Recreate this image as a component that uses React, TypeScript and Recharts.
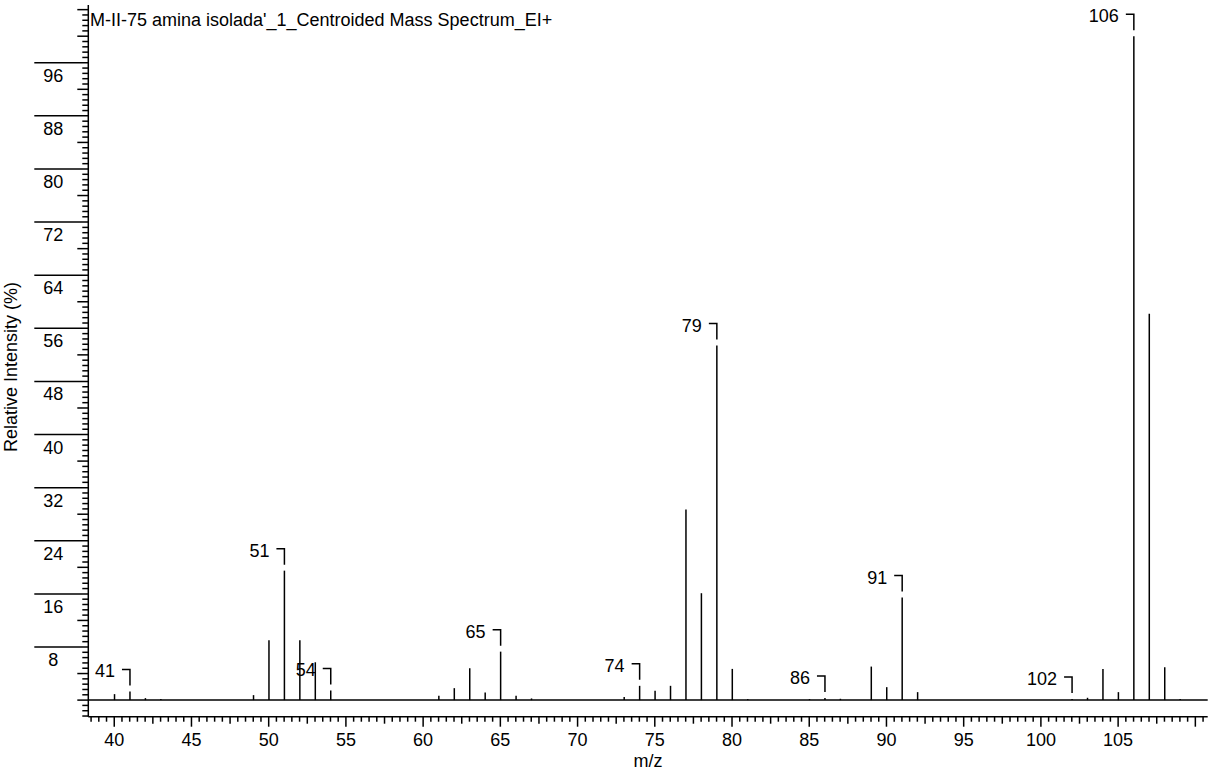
import React from "react";
import { Bar, ComposedChart, ReferenceLine, XAxis, YAxis } from "recharts";

const title = "M-II-75 amina isolada'_1_Centroided Mass Spectrum_EI+";

// centroided peaks: m/z and relative intensity (%)
const mzValues = [
  40, 41, 42, 43, 49, 50, 51, 52, 53, 54, 61, 62, 63, 64, 65, 66, 67, 73, 74, 75,
  76, 77, 78, 79, 80, 81, 85, 86, 87, 89, 90, 91, 92, 102, 103, 104, 105, 106,
  107, 108, 109,
];
const intensities = [
  0.9, 1.3, 0.3, 0.15, 0.75, 9.0, 19.5, 9.0, 5.7, 1.45, 0.65, 1.8, 4.8, 1.15,
  7.3, 0.65, 0.25, 0.45, 2.15, 1.4, 2.15, 28.7, 16.1, 53.4, 4.7, 0.15, 0.15, 0.3,
  0.2, 5.05, 1.95, 15.45, 1.2, 0.15, 0.35, 4.7, 1.2, 100, 58.2, 4.95, 0.15,
];
const labeledMz = [41, 51, 54, 65, 74, 79, 86, 91, 102, 106];

const xLabels = [40, 45, 50, 55, 60, 65, 70, 75, 80, 85, 90, 95, 100, 105];
const yLabels = [8, 16, 24, 32, 40, 48, 56, 64, 72, 80, 88, 96];

const data = mzValues.map((mz, i) => ({ mz, intensity: intensities[i] }));

// minor tick positions: every 0.5 on m/z, every 0.8 on intensity
const xTicks: number[] = [];
for (let k = 77; k <= 221; k++) xTicks.push(k / 2);
const yTicks: number[] = [];
for (let k = -3; k <= 130; k++) yTicks.push(Math.round(k * 8) / 10);

const FONT = "'Liberation Sans', Arial, sans-serif";
const INK = "#000";

const XTick = ({ x, y, payload }: any) => {
  const v: number = payload.value;
  const major = Math.abs(v / 5 - Math.round(v / 5)) < 1e-6;
  const mid = !major && Math.abs(v / 2.5 - Math.round(v / 2.5)) < 1e-6;
  const len = major ? 10 : mid ? 7 : 5;
  return (
    <g>
      <line x1={x} x2={x} y1={y} y2={y + len} stroke={INK} strokeWidth={1.5} />
      {major && xLabels.includes(v) && (
        <text x={x} y={y + 29} textAnchor="middle" fontSize={18} fontFamily={FONT} fill={INK}>
          {v}
        </text>
      )}
    </g>
  );
};

const YTick = ({ x, y, payload }: any) => {
  const v: number = payload.value;
  const k = Math.round(v / 0.8);
  const major = yLabels.includes(Math.round(v * 10) / 10);
  const mid = k % 5 === 0;
  const len = major ? 54 : mid ? 11 : 6;
  return (
    <g>
      <line x1={x - len} x2={x} y1={y} y2={y} stroke={INK} strokeWidth={1.5} />
      {major && (
        <text x={x - 35} y={y + 19} textAnchor="middle" fontSize={18} fontFamily={FONT} fill={INK}>
          {Math.round(v)}
        </text>
      )}
    </g>
  );
};

// a stick per peak, with the bracketed m/z label on the annotated ones
const Stick = (props: any) => {
  const { x, y, width, height, payload } = props;
  const cx = x + width / 2;
  const by = y - 22;
  return (
    <g>
      <line x1={cx} x2={cx} y1={y} y2={y + height} stroke={INK} strokeWidth={1.5} />
      {labeledMz.includes(payload.mz) && (
        <g>
          <polyline
            points={`${cx - 8},${by} ${cx},${by} ${cx},${by + 16}`}
            fill="none"
            stroke={INK}
            strokeWidth={1.5}
          />
          <text x={cx - 15} y={by + 8} textAnchor="end" fontSize={18} fontFamily={FONT} fill={INK}>
            {payload.mz}
          </text>
        </g>
      )}
    </g>
  );
};

export default function App() {
  return (
    <div style={{ position: "absolute", left: 0, top: 0, background: "#fff" }}>
      <ComposedChart
        width={1212}
        height={773}
        data={data}
        margin={{ top: 5, right: 4.3, bottom: 55.3, left: 87.3 }}
        style={{ fontFamily: FONT }}
      >
        <XAxis
          dataKey="mz"
          type="number"
          domain={[38.32, 110.8]}
          ticks={xTicks}
          interval={0}
          height={1}
          tickSize={0}
          tickMargin={0}
          tickLine={false}
          tick={<XTick />}
          axisLine={{ stroke: INK, strokeWidth: 1.5 }}
        />
        <YAxis
          type="number"
          domain={[-2.5, 104.7]}
          ticks={yTicks}
          interval={0}
          width={1}
          tickSize={0}
          tickMargin={0}
          tickLine={false}
          tick={<YTick />}
          axisLine={{ stroke: INK, strokeWidth: 1.5 }}
        />
        <ReferenceLine y={0} stroke={INK} strokeWidth={1.5} />
        <Bar dataKey="intensity" barSize={2} shape={<Stick />} isAnimationActive={false} />
        <text x={90} y={26} fontSize={18} fontFamily={FONT} fill={INK}>
          {title}
        </text>
        <text x={648} y={767} textAnchor="middle" fontSize={18} fontFamily={FONT} fill={INK}>
          m/z
        </text>
        <text
          transform="translate(17, 367) rotate(-90)"
          textAnchor="middle"
          fontSize={18}
          fontFamily={FONT}
          fill={INK}
        >
          Relative Intensity (%)
        </text>
      </ComposedChart>
    </div>
  );
}
